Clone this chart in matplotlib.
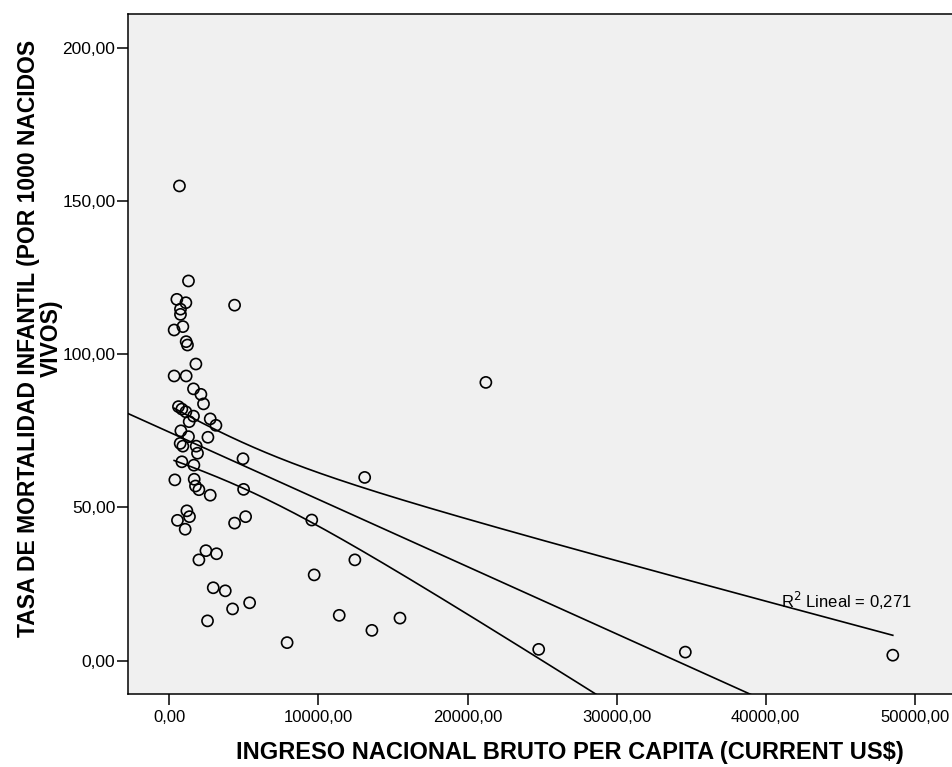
import matplotlib
matplotlib.use('Agg')
import matplotlib.pyplot as plt
import numpy as np

# Ingreso nacional bruto per capita (US$) y tasa de mortalidad infantil
gni = [672, 1278, 498, 1103, 740, 740, 901, 316, 1123, 1210,
       4371, 1775, 316, 1123, 1614, 2112, 2286, 605, 834, 1103,
       1614, 1325, 2737, 3120, 767, 1278, 2582, 720, 901, 1796,
       1883, 4936, 834, 1641, 363, 1661, 1748, 1977, 4976, 2737,
       1170, 1345, 538, 4371, 5111, 9549, 1056, 2448, 3161, 1977,
       12441, 9711, 2939, 3746, 5380, 4237, 11392, 15467, 2555, 13584,
       7895, 13100, 21230, 24775, 34613, 48533]
mort = [154.9, 123.9, 117.9, 116.8, 114.7, 113.0, 109.0, 107.9, 104.1, 103.0,
        116.0, 96.8, 92.9, 92.9, 88.7, 86.9, 83.8, 82.9, 82.1, 81.2,
        79.8, 78.0, 78.9, 76.8, 75.0, 73.1, 72.9, 70.9, 70.0, 70.0,
        67.7, 65.9, 64.9, 63.8, 59.0, 59.2, 57.0, 55.8, 55.9, 54.0,
        48.9, 47.0, 45.8, 44.9, 47.0, 45.9, 42.9, 35.9, 34.9, 32.9,
        32.9, 28.0, 23.8, 22.8, 18.9, 16.9, 14.8, 13.9, 13.0, 9.9,
        5.9, 59.8, 90.8, 3.7, 2.8, 1.8]
xticks = [0, 10000, 20000, 30000, 40000, 50000]
yticks = [0, 50, 100, 150, 200]
r2_text = 'R$^2$ Lineal = 0,271'

x = np.array(gni, dtype=float)
y = np.array(mort, dtype=float)
n = len(x)

# ajuste lineal y banda de confianza al 95% para la media
b1, b0 = np.polyfit(x, y, 1)
resid = y - (b0 + b1 * x)
s = np.sqrt((resid ** 2).sum() / (n - 2))
sxx = ((x - x.mean()) ** 2).sum()
t = 1.998

xmin, xmax = -2780, 52700
ymin, ymax = -10.96, 211.0

fig = plt.figure(figsize=(9.53, 7.67), dpi=100)
ax = fig.add_axes([128 / 953, 1 - 694.3 / 767, 1.002 - 128 / 953, (694.3 - 14) / 767])
ax.set_facecolor('#F0F0F0')

xl = np.linspace(xmin, xmax, 200)
ax.plot(xl, b0 + b1 * xl, color='black', lw=1.2, zorder=2)
xb = np.linspace(x.min(), x.max(), 300)
half = t * s * np.sqrt(1 / n + (xb - x.mean()) ** 2 / sxx)
ax.plot(xb, b0 + b1 * xb + half, color='black', lw=1.2, zorder=2)
ax.plot(xb, b0 + b1 * xb - half, color='black', lw=1.2, zorder=2)

ax.scatter(x, y, s=64, facecolors='none', edgecolors='black', linewidths=1.2, zorder=3)

ax.set_xlim(xmin, xmax)
ax.set_ylim(ymin, ymax)
ax.set_xticks(xticks)
ax.set_yticks(yticks)
ax.set_xticklabels([f'{v:.2f}'.replace('.', ',') for v in xticks],
                   family='Liberation Sans', fontsize=12)
ax.set_yticklabels([f'{v:.2f}'.replace('.', ',') for v in yticks],
                   family='Liberation Sans', fontsize=12.5)
ax.tick_params(axis='both', direction='out', length=8, width=1.1, color='black')
ax.tick_params(axis='x', pad=3)
ax.tick_params(axis='y', pad=1)
for sp in ax.spines.values():
    sp.set_linewidth(1.1)
    sp.set_color('black')

ax.text(41000, 19.5, r2_text, fontsize=12,
        family='Liberation Sans', va='center', ha='left')

fig.text(570 / 953, 1 - 753 / 767, 'INGRESO NACIONAL BRUTO PER CAPITA (CURRENT US$)',
         family='Liberation Sans', fontweight='bold',
         fontsize=17, ha='center', va='center')
fig.text(40 / 953, 1 - 338 / 767, 'TASA DE MORTALIDAD INFANTIL (POR 1000 NACIDOS\nVIVOS)',
         family='Liberation Sans', fontweight='bold',
         fontsize=16.5, ha='center', va='center', rotation=90, linespacing=1.0,
         multialignment='center')

fig.savefig('out.png', dpi=100)
